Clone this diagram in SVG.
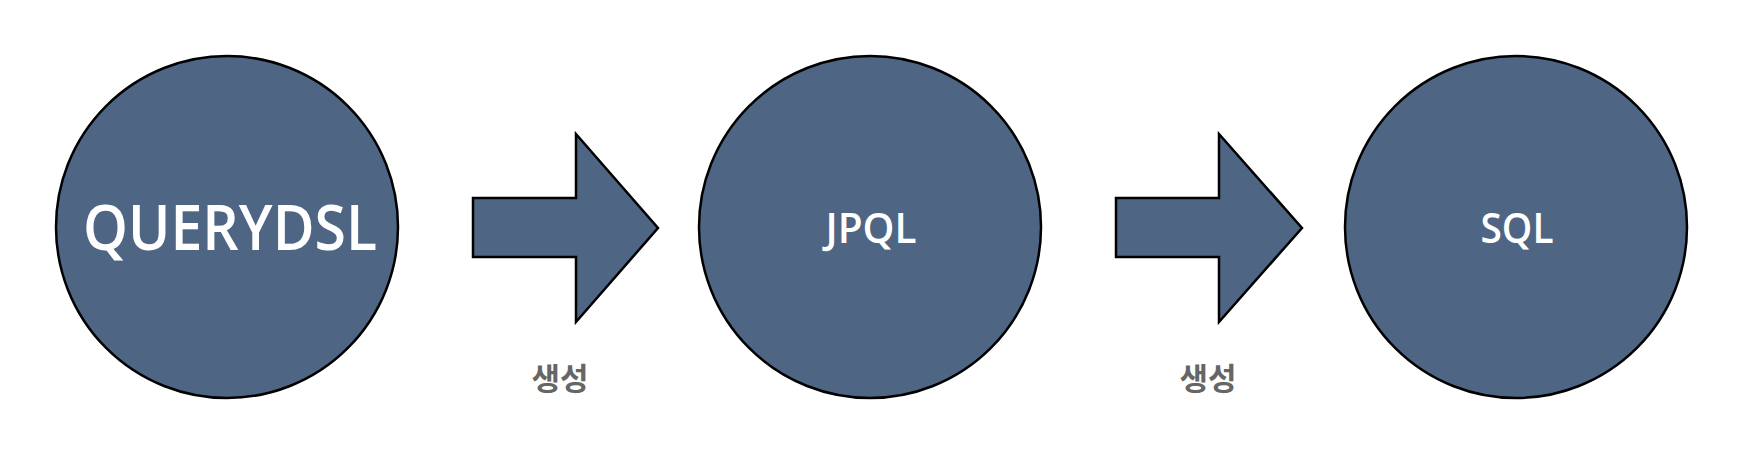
<svg xmlns="http://www.w3.org/2000/svg" width="1737" height="452" viewBox="0 0 1737 452">
  <style>
    .node { fill: #4e6584; stroke: #000; stroke-width: 2.5; }
    .arrow { fill: #4e6584; stroke: #000; stroke-width: 2.5; stroke-linejoin: miter; }
    .label { fill: #ffffff; font-family: "Open Sans", "Liberation Sans", sans-serif; font-weight: 600; text-anchor: middle; }
    .edge-label { fill: #666666; font-family: "Noto Sans CJK KR", sans-serif; font-weight: 700; font-size: 31px; text-anchor: middle; }
  </style>
  <rect width="1737" height="452" fill="#ffffff"/>
  <g id="node-querydsl">
    <circle class="node" cx="227" cy="227" r="171"/>
    <text class="label" x="230" y="250" font-size="63" textLength="294" lengthAdjust="spacingAndGlyphs">QUERYDSL</text>
  </g>
  <g id="node-jpql">
    <circle class="node" cx="870" cy="227" r="171"/>
    <text class="label" x="871" y="243" font-size="42" textLength="91" lengthAdjust="spacingAndGlyphs">JPQL</text>
  </g>
  <g id="node-sql">
    <circle class="node" cx="1516" cy="227" r="171"/>
    <text class="label" x="1517" y="243" font-size="42" textLength="73" lengthAdjust="spacingAndGlyphs">SQL</text>
  </g>
  <g id="connectors">
    <g id="edge-1">
      <polygon class="arrow" points="473,198 576,198 576,134 658,228 576,322 576,257 473,257"/>
      <text class="edge-label" x="560" y="390">생성</text>
    </g>
    <g id="edge-2">
      <polygon class="arrow" points="1116,198 1219,198 1219,134 1302,228 1219,322 1219,257 1116,257"/>
      <text class="edge-label" x="1208" y="390">생성</text>
    </g>
  </g>
</svg>
